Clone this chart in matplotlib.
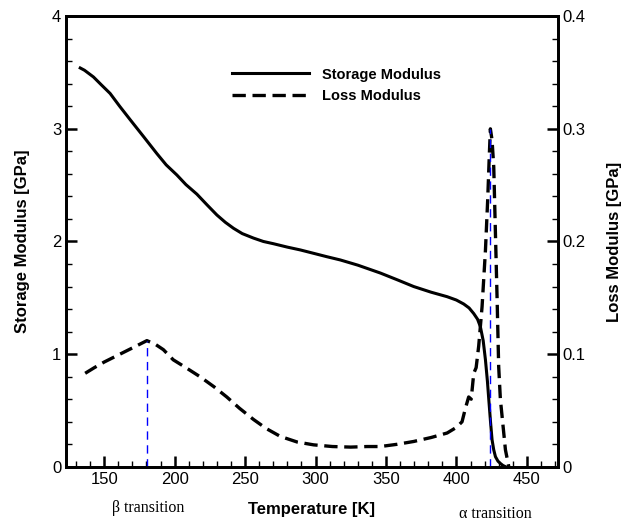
import matplotlib
matplotlib.use('Agg')
from matplotlib import pyplot as plt
from matplotlib.ticker import MultipleLocator

# storage modulus [GPa] vs temperature [K]
storage_T = [133, 136, 142.4, 148, 154.2, 161, 168.5, 178, 187.4, 194, 201.6, 208,
             215.8, 223, 230, 236, 241.8, 248, 256, 263, 270.2, 280, 289.2, 298,
             308, 317.6, 330, 346, 358, 369.7, 382, 393.4, 400, 405.2, 409, 412.3,
             415, 417, 419, 420.6, 422, 423, 424.2, 425.3, 426.5, 427.7, 429.5,
             431.2, 433, 435]
storage_E = [3.54, 3.52, 3.46, 3.39, 3.314, 3.20, 3.08, 2.93, 2.78, 2.68, 2.59, 2.505,
             2.42, 2.325, 2.235, 2.17, 2.117, 2.07, 2.03, 2.00, 1.98, 1.95, 1.925, 1.897,
             1.865, 1.836, 1.79, 1.72, 1.66, 1.60, 1.55, 1.51, 1.48, 1.445, 1.41, 1.36,
             1.31, 1.244, 1.12, 0.95, 0.76, 0.594, 0.40, 0.24, 0.15, 0.09, 0.05,
             0.03, 0.012, 0.0]

# loss modulus [GPa] vs temperature [K]
loss_T = [136.5, 143, 150, 158, 166, 174, 180.3, 186, 192, 199, 208, 218, 228,
          237, 246, 256, 265, 275, 287, 298.6, 312, 325, 336.5, 346, 358, 369.7,
          382, 393.4, 400, 404, 406.4, 408.7, 410.5, 412.3, 414, 415.8, 418.2,
          420.6, 422.2, 423.3, 424.1, 425.3, 426.5, 427.7, 428.9, 430, 431.2,
          432.4, 434.8, 437.2]
loss_E = [0.083, 0.088, 0.093, 0.098, 0.103, 0.108, 0.112, 0.109, 0.104, 0.095, 0.088, 0.080, 0.071,
          0.062, 0.052, 0.042, 0.034, 0.027, 0.022, 0.0195, 0.018, 0.0175, 0.018, 0.018, 0.020, 0.0225,
          0.026, 0.030, 0.035, 0.040, 0.052, 0.062, 0.060, 0.083, 0.088, 0.107, 0.142,
          0.192, 0.237, 0.275, 0.300, 0.290, 0.266, 0.207, 0.148, 0.089, 0.060,
          0.045, 0.015, 0.0]

beta_T = 180.3
alpha_T = 423.6

plt.rcParams['font.family'] = ['Liberation Sans', 'DejaVu Sans']

fig = plt.figure(figsize=(6.24, 5.21), dpi=100)
ax = fig.add_subplot(111)
fig.subplots_adjust(left=0.106, right=0.894, top=0.969, bottom=0.104)
ax2 = ax.twinx()

ax.plot(storage_T, storage_E, color='black', lw=2.2, label='Storage Modulus')
ax2.plot(loss_T, loss_E, color='black', lw=2.4, dashes=(4, 2), label='Loss Modulus')

# transition markers
ax2.plot([beta_T, beta_T], [0, 0.112], color='blue', lw=1, dashes=(6, 4))
ax2.plot([alpha_T, alpha_T], [0, 0.300], color='blue', lw=1, dashes=(6, 4))

ax.set_xlim(123, 472)
ax.set_ylim(0, 4)
ax2.set_ylim(0, 0.4)

ax.xaxis.set_major_locator(MultipleLocator(50))
ax.xaxis.set_minor_locator(MultipleLocator(10))
ax.yaxis.set_major_locator(MultipleLocator(1))
ax.yaxis.set_minor_locator(MultipleLocator(0.2))
ax2.yaxis.set_major_locator(MultipleLocator(0.1))
ax2.yaxis.set_minor_locator(MultipleLocator(0.02))
ax2.yaxis.set_major_formatter(plt.FuncFormatter(lambda v, p: '0' if v == 0 else '%g' % v))

for a in (ax, ax2):
    for s in a.spines.values():
        s.set_linewidth(2)
    a.tick_params(which='major', direction='in', length=8, width=1.8, labelsize=12)
    a.tick_params(which='minor', direction='in', length=4, width=1)
ax.tick_params(axis='y', right=False)
ax.tick_params(axis='x', top=False, which='both')
ax2.tick_params(axis='x', top=False, which='both')

ax.set_xlabel('Temperature [K]', fontsize=12, fontweight='bold', labelpad=11)
ax.set_ylabel('Storage Modulus [GPa]', fontsize=12, fontweight='bold', labelpad=15.5)
ax2.set_ylabel('Loss Modulus [GPa]', fontsize=12, fontweight='bold', labelpad=15.5)

ax.text(beta_T + 1, -0.092, '\u03b2 transition', transform=ax.get_xaxis_transform(),
        ha='center', va='center', fontsize=11.5, family='Liberation Serif')
ax.text(alpha_T + 4, -0.104, '\u03b1 transition', transform=ax.get_xaxis_transform(),
        ha='center', va='center', fontsize=11.5, family='Liberation Serif')

h1, l1 = ax.get_legend_handles_labels()
h2, l2 = ax2.get_legend_handles_labels()
ax2.legend(h1 + h2, l1 + l2, loc='upper left', bbox_to_anchor=(0.337, 0.886),
           frameon=False, borderpad=0, borderaxespad=0, handlelength=5.3,
           handletextpad=0.9, labelspacing=0.5,
           prop={'weight': 'bold', 'size': 10.5})

fig.savefig('out.png', dpi=100)
